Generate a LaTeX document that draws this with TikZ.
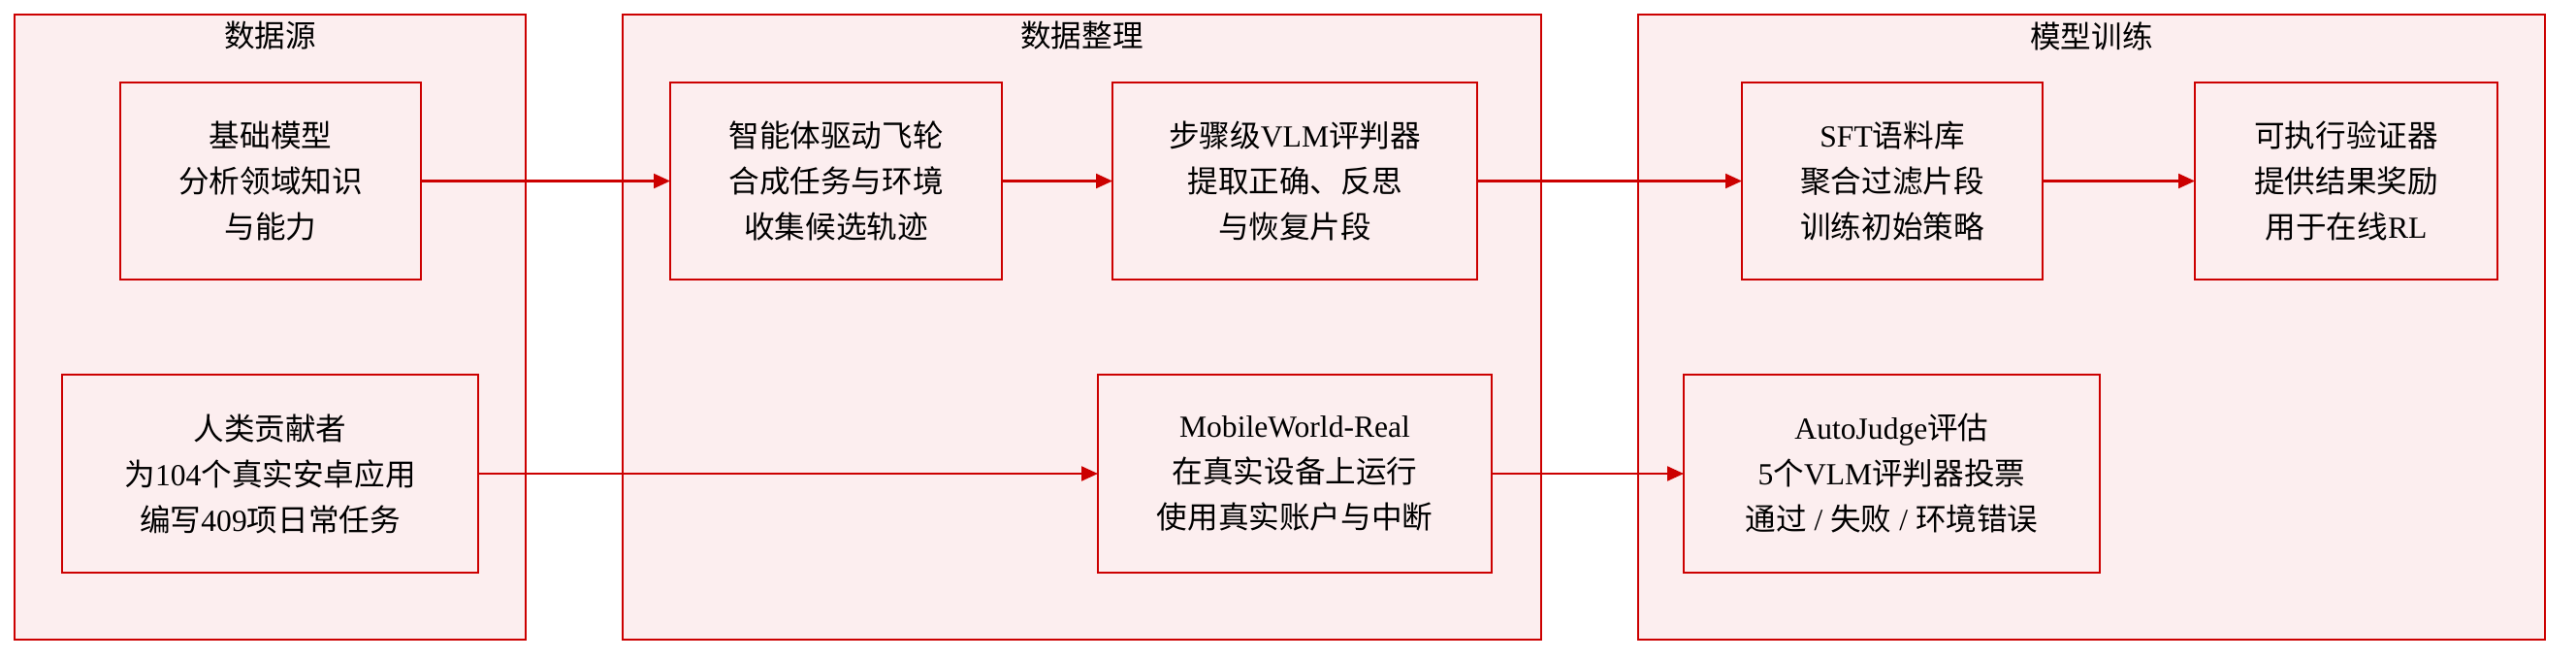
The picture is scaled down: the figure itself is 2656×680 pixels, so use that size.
\documentclass[tikz,border=0pt]{standalone}
\usepackage{fontspec}
\setmainfont{Noto Sans CJK SC}
\newfontfamily\lat{Liberation Serif}
\usetikzlibrary{arrows.meta}
\definecolor{boxred}{HTML}{CC0000}
\definecolor{boxfill}{HTML}{FCEEEF}
\begin{document}
\begin{tikzpicture}[x=0.5pt,y=-0.5pt,
  cluster/.style={draw=boxred, fill=boxfill, line width=0.9pt, inner sep=0pt, outer sep=0pt},
  title/.style={font=\fontsize{15.8}{18}\selectfont, inner sep=0pt},
  proc/.style={draw=boxred, fill=boxfill, line width=0.9pt, align=center, inner sep=0pt, outer sep=0pt,
    minimum height=101.5pt, font=\fontsize{15.8}{23.5}\selectfont},
  flow/.style={draw=boxred, line width=1.1pt, -{Triangle[length=8.5pt,width=7.5pt]}}]
\useasboundingbox (0,0) rectangle (2656,680);
% clusters
\node[cluster, minimum width=263.5pt, minimum height=322pt] (c1) at (278.5,337) {};
\node[cluster, minimum width=473.5pt, minimum height=322pt] (c2) at (1115.5,337) {};
\node[cluster, minimum width=467.5pt, minimum height=322pt] (c3) at (2156.5,337) {};
\node[title] (t1) at (278.5,37) {数据源};
\node[title] (t2) at (1115.5,37) {数据整理};
\node[title] (t3) at (2156.5,37) {模型训练};
% boxes
\node[proc, minimum width=155pt] (a) at (279,186.5) {基础模型\\分析领域知识\\与能力};
\node[proc, minimum width=214.5pt, minimum height=102pt] (b) at (278.5,488) {人类贡献者\\为{\lat 104}个真实安卓应用\\编写{\lat 409}项日常任务};
\node[proc, minimum width=171pt] (c) at (862,186.5) {智能体驱动飞轮\\合成任务与环境\\收集候选轨迹};
\node[proc, minimum width=188pt] (d) at (1335,186.5) {步骤级{\lat VLM}评判器\\提取正确、反思\\与恢复片段};
\node[proc, minimum width=203pt, minimum height=102pt] (e) at (1335,488) {{\lat MobileWorld-Real}\\在真实设备上运行\\使用真实账户与中断};
\node[proc, minimum width=155pt] (f) at (1951,186.5) {{\lat SFT}语料库\\聚合过滤片段\\训练初始策略};
\node[proc, minimum width=156pt] (g) at (2419,186.5) {可执行验证器\\提供结果奖励\\用于在线{\lat RL}};
\node[proc, minimum width=214.5pt, minimum height=102pt] (h) at (1950.5,488) {{\lat AutoJudge}评估\\{\lat 5}个{\lat VLM}评判器投票\\通过{\lat\ / }失败{\lat\ / }环境错误};
% arrows
\draw[flow] (a) -- (c);
\draw[flow] (c) -- (d);
\draw[flow] (d) -- (f);
\draw[flow] (f) -- (g);
\draw[flow] (b) -- (e);
\draw[flow] (e) -- (h);
\end{tikzpicture}
\end{document}
